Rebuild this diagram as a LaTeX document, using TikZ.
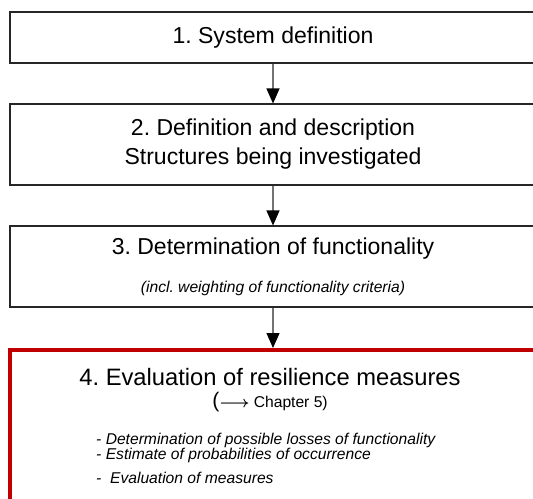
\documentclass[tikz,border=0pt]{standalone}
\usepackage{fontspec}
\setmainfont{Liberation Sans}
\frenchspacing
\definecolor{evalred}{RGB}{192, 0, 0}
\usetikzlibrary{arrows.meta, positioning}

\begin{document}
\begin{tikzpicture}[
  stepbox/.style={draw=black!85, line width=0.6pt, minimum width=10.52cm, align=center, font=\fontsize{13.1}{16.5}\selectfont, inner sep=0pt},
  evalbox/.style={draw=evalred, line width=2.3pt, minimum width=10.52cm, minimum height=3.6cm, anchor=north, inner sep=0pt},
  flow/.style={draw=black!55, line width=0.6pt, -{Triangle[width=0.26cm, length=0.3cm, color=black]}},
  note/.style={font=\fontsize{8.9}{8.5}\selectfont\itshape}
]
  \useasboundingbox (0, 0) rectangle (10.66, -9.96);
  \clip (0, 0) rectangle (10.66, -9.96);

  \node[stepbox, minimum height=1.02cm] (sysdef) at (5.46, -0.75) {1. System definition};
  \node[stepbox, minimum height=1.62cm] (structdef) at (5.46, -2.89) {2. Definition and description\\Structures being investigated};
  \node[stepbox, minimum height=1.62cm] (functdet) at (5.46, -5.33) {3. Determination of functionality\\[5pt]{\fontsize{8.9}{10}\selectfont\itshape (incl. weighting of functionality criteria)}};
  \node[evalbox] (resil) at (5.46, -6.96) {};

  \node[font=\fontsize{13.5}{16}\selectfont] (resiltitle) at (5.4, -7.54) {4. Evaluation of resilience measures};
  \node (chapref) at (5.4, -8.04) {\fontsize{12}{14}\selectfont(\fontsize{8.9}{10}\selectfont{\boldmath$\longrightarrow$} Chapter 5)};
  \node[note, anchor=west, align=left] (lossitems) at (1.8, -8.95) {- Determination of possible losses of functionality\\- Estimate of probabilities of occurrence};
  \node[note, anchor=west] (measitem) at (1.8, -9.55) {-\ \ Evaluation of measures};

  \draw[flow] (sysdef) -- (structdef);
  \draw[flow] (structdef) -- (functdet);
  \draw[flow] (functdet) -- (resil);
\end{tikzpicture}
\end{document}
